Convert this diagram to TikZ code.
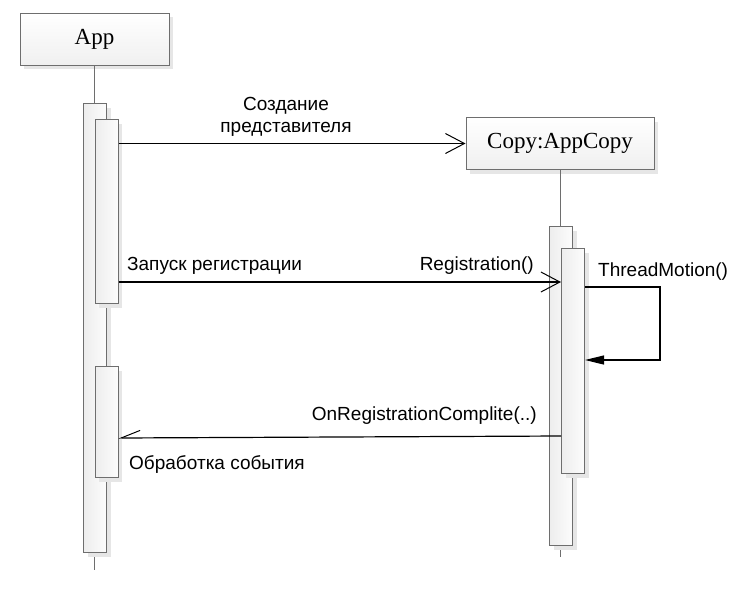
\documentclass[tikz,border=0pt]{standalone}
\usepackage{fontspec}
\newfontfamily\lsans{Liberation Sans}
\newfontfamily\lserif{Liberation Serif}
\usetikzlibrary{arrows.meta,shadows}
\definecolor{edge}{HTML}{6E6E6E}
\definecolor{shade}{HTML}{E6E6E6}
\begin{document}
\begin{tikzpicture}[x=1pt,y=-1pt,
  objbox/.style={draw=edge, line width=1pt, top color=white, bottom color=gray!12,
    minimum height=52pt, inner sep=0pt, font=\lserif\fontsize{23}{27}\selectfont,
    drop shadow={shadow xshift=4pt, shadow yshift=-4pt, fill=shade, opacity=1}},
  actbox/.style={draw=edge, line width=1pt, left color=gray!14, right color=gray!2,
    minimum width=23pt, inner sep=0pt, anchor=north west,
    drop shadow={shadow xshift=4pt, shadow yshift=-4pt, fill=shade, opacity=1}},
  lifeline/.style={draw=edge, line width=1pt},
  msg/.style={draw=black, line width=1.2pt},
  openarrow/.style={-{Straight Barb[length=19pt,width=20pt,line width=1pt]}},
  halfarrow/.style={-{Straight Barb[length=19pt,width=15pt,line width=1pt,right]}},
  fillarrow/.style={-{Triangle[length=19pt,width=9pt]}},
  lbl/.style={font=\lsans\fontsize{19}{22}\selectfont, inner sep=0pt}
]
\useasboundingbox (0,0) rectangle (747,603);
\fill[white] (0,0) rectangle (747,603);

% objects
\node[objbox, minimum width=149pt] (app) at (94.5,39) {App};
\node[objbox, minimum width=188pt] (copy) at (560,143.5) {Copy:AppCopy};

% lifelines
\coordinate (append) at (94.5,570);
\coordinate (copyend) at (560,557);
\draw[lifeline] (app.south) -- (append);
\draw[lifeline] (copy.south) -- (copyend);

% activations
\node[actbox, minimum height=449pt] (a0) at (83,103) {};
\node[actbox, minimum height=184pt] (a1) at (94.5,119) {};
\node[actbox, minimum height=111pt] (a2) at (94.5,366) {};
\node[actbox, minimum height=319pt] (c0) at (549,226) {};
\node[actbox, minimum height=225pt] (c1) at (561,248) {};

% message 1
\draw[msg, openarrow] (a1.east |- copy.west) -- (copy.west);
\node[lbl, align=center] (l1) at (286,117) {Создание\\представителя};

% message 2
\coordinate (m2) at ([yshift=-34pt]c1.north west);
\draw[msg, openarrow] (a1.east |- m2) -- (m2);
\node[lbl, anchor=base west] (l2) at (127,270) {Запуск регистрации};
\node[lbl, anchor=base east] (l3) at (534,270) {Registration()};

% self message
\coordinate (s1) at ([yshift=-39pt]c1.north east);
\coordinate (s2) at ([xshift=75pt,yshift=-112pt]c1.north east);
\coordinate (s3) at ([yshift=-112pt]c1.north east);
\draw[msg, fillarrow] (s1) -| (s2) -- (s3);
\node[lbl, anchor=base west] (l4) at (598,276) {ThreadMotion()};

% return message
\coordinate (r1) at ([yshift=-188pt]c1.north west);
\coordinate (r2) at ([yshift=-72pt]a2.north east);
\draw[msg, halfarrow] (r1) -- (r2);
\node[lbl, anchor=base east] (l5) at (537,420) {OnRegistrationComplite(..)};
\node[lbl, anchor=base west] (l6) at (129,469) {Обработка события};
\end{tikzpicture}
\end{document}
